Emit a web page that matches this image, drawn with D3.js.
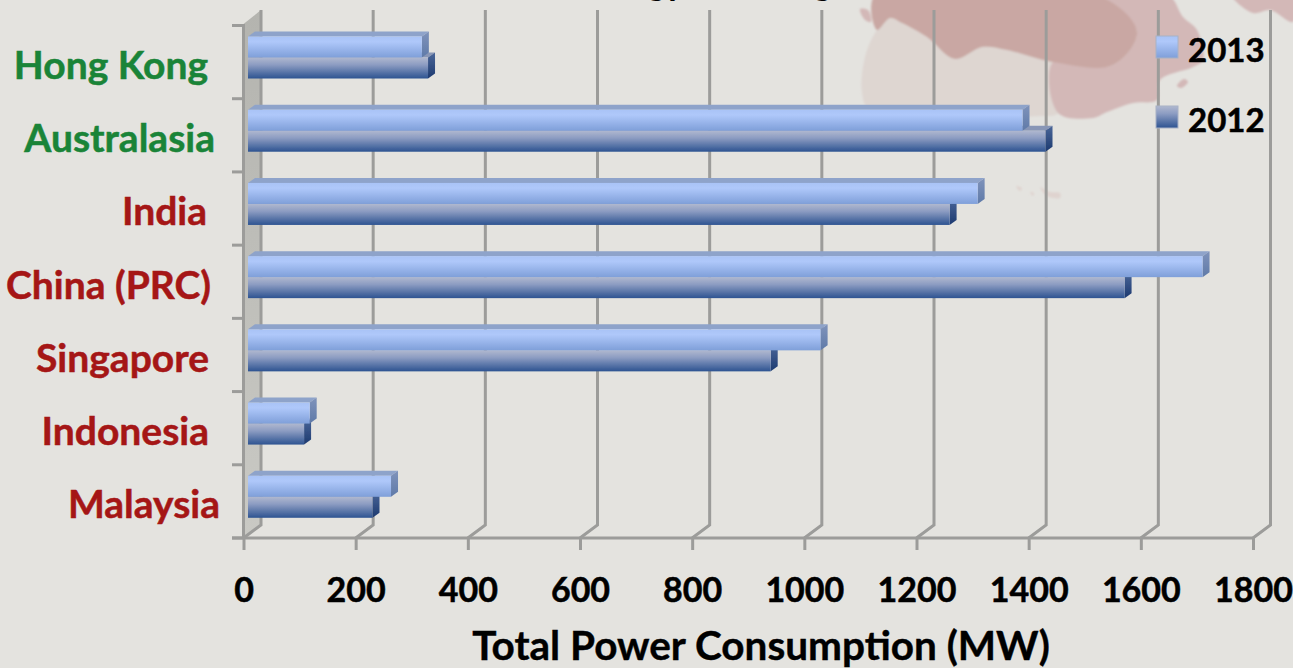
<!DOCTYPE html>
<html>
<head>
<meta charset="utf-8">
<title>Total Power Consumption</title>
<script src="https://cdn.jsdelivr.net/npm/d3@7"></script>
<style>
    html, body { margin: 0; padding: 0; background: #e4e3df; overflow: hidden; }
    text { font-family: Lato, "Open Sans", sans-serif; font-weight: 700; }
</style>
</head>
<body>
<div id="chart"></div>
<script>
// values
var categories = ["Hong Kong", "Australasia", "India", "China (PRC)", "Singapore", "Indonesia", "Malaysia"];
var regionKind = ["green", "green", "red", "red", "red", "red", "red"];
var years = ["2013", "2012"];
var values2013 = [310, 1381, 1301, 1702, 1021, 110, 255];
var values2012 = [321, 1422, 1251, 1563, 932, 100, 222];
var xTicks = [0, 200, 400, 600, 800, 1000, 1200, 1400, 1600, 1800];
var xTitle = "Total Power Consumption (MW)";

var width = 1293, height = 668;

// 3d layout of the chart box
var depthX = 17.5, depthY = 13;      // floor depth
var barInset = 4.5, barDepthX = 7, barDepthY = 5;
var wallTop = 10, floorY = 538;

var svg = d3.select("#chart").append("svg")
    .attr("width", width)
    .attr("height", height)
    .style("display", "block");

var defs = svg.append("defs");

function addGradient(id, stops) {
    var g = defs.append("linearGradient")
        .attr("id", id)
        .attr("x1", 0).attr("y1", 0).attr("x2", 0).attr("y2", 1);
    stops.forEach(function (s) {
        g.append("stop").attr("offset", s[0]).attr("stop-color", s[1]);
    });
}
addGradient("front2013", [[0, "#a9c3f6"], [0.25, "#afc8fa"], [1, "#7f9fd9"]]);
addGradient("front2012", [[0, "#b0b8cf"], [0.35, "#8c9cc2"], [1, "#2d5391"]]);
addGradient("side2013", [[0, "#7f93bb"], [1, "#5f7aa8"]]);
addGradient("side2012", [[0, "#4a6698"], [1, "#1d3a70"]]);

var wallGrad = defs.append("linearGradient")
    .attr("id", "wall")
    .attr("x1", 0).attr("y1", 0).attr("x2", 0).attr("y2", 1);
wallGrad.append("stop").attr("offset", 0).attr("stop-color", "#b4b4af");
wallGrad.append("stop").attr("offset", 1).attr("stop-color", "#c9c9c4");

defs.append("filter").attr("id", "soft")
    .append("feGaussianBlur").attr("stdDeviation", 0.6);
defs.append("filter").attr("id", "softer")
    .append("feGaussianBlur").attr("stdDeviation", 1.2);

/******************** faded map behind the chart ********************/
var darkLand = [[875, -5], [877, 30], [890, 18], [902, 23], [927, 37], [955, 59], [982, 47], [1007, 50], [1053, 62], [1113, 65], [1137, 32], [1097, -5]];
var midLand = [[1097, -5], [1137, 32], [1113, 65], [1053, 62], [1058, 113], [1093, 118], [1107, 112], [1133, 103], [1157, 100], [1160, 80], [1193, 67], [1203, 60], [1197, 30], [1183, 17], [1168, -5]];
var lightLand = [[877, 30], [890, 18], [902, 23], [927, 37], [955, 59], [982, 47], [1007, 50], [1053, 62], [1058, 113], [1040, 116], [870, 110], [862, 93], [865, 57]];
var topRightLand = [[1232, -5], [1253, 13], [1270, 10], [1293, 22], [1293, -5]];
var islands = [
    [[860, 9], [868, 10], [871, 22], [865, 20]],
    [[1177, 86], [1184, 79], [1188, 82], [1181, 88]],
    [[1040, 187], [1050, 192], [1060, 193], [1060, 198], [1047, 196]],
    [[1016, 186], [1022, 188], [1020, 191]],
    [[1030, 192], [1034, 193], [1033, 196]]
];

var map = svg.append("g").attr("class", "map").attr("filter", "url(#softer)");
var poly = function (pts) { return pts.map(function (p) { return p.join(","); }).join(" "); };
var coast = d3.line().curve(d3.curveCatmullRomClosed);
map.append("path").attr("d", coast(lightLand)).attr("fill", "#ded6d1");
map.append("path").attr("d", coast(midLand)).attr("fill", "#d3b8b7");
map.append("path").attr("d", coast(darkLand)).attr("fill", "#c9a7a3");
map.append("path").attr("d", coast(topRightLand)).attr("fill", "#d3b8b7");
map.selectAll(".island")
    .data(islands)
    .enter().append("path")
    .attr("class", "island")
    .attr("d", coast)
    .attr("fill", function (d, i) { return i > 1 ? "#dfd3cf" : "#d3b8b7"; });

// bottoms of the cropped title, only the descenders stay in frame
svg.append("text").attr("x", 647).attr("y", -5).attr("font-size", 36).text("gy");
svg.append("text").attr("x", 813).attr("y", -5).attr("font-size", 36).text("g");

/******************** scales ********************/
var xScale = d3.scaleLinear()
    .domain([0, 1800])
    .range([243.5, 1253]);

var yScale = d3.scaleBand()
    .domain(categories)
    .range([25.5, floorY]);

var yearScale = d3.scaleBand()
    .domain(years)
    .range([0, 42]);

var barTop = 11;
var gridColor = "#9c9c9a";

var chart = svg.append("g").attr("class", "plot").attr("filter", "url(#soft)");

/******************** side wall ********************/
var x0 = xScale(0);
chart.append("polygon")
    .attr("points", poly([[x0, wallTop + depthY + 1], [x0 + depthX, wallTop], [x0 + depthX, floorY - depthY], [x0, floorY]]))
    .attr("fill", "url(#wall)");

chart.append("line")
    .attr("x1", x0).attr("x2", x0)
    .attr("y1", wallTop + depthY + 1).attr("y2", floorY)
    .attr("stroke", gridColor).attr("stroke-width", 3);

// category tick marks sit on the band edges
chart.selectAll(".ytick")
    .data(categories.concat(["end"]))
    .enter().append("line")
    .attr("class", "ytick")
    .attr("x1", 232).attr("x2", x0)
    .attr("y1", function (d) { return d === "end" ? floorY : yScale(d); })
    .attr("y2", function (d) { return d === "end" ? floorY : yScale(d); })
    .attr("stroke", gridColor).attr("stroke-width", 3);

/******************** grid ********************/
chart.selectAll(".grid")
    .data(xTicks)
    .enter().append("polyline")
    .attr("class", "grid")
    .attr("points", function (d) {
        return poly([[xScale(d), floorY], [xScale(d) + depthX, floorY - depthY], [xScale(d) + depthX, wallTop]]);
    })
    .attr("fill", "none")
    .attr("stroke", gridColor)
    .attr("stroke-width", 3);

/******************** bars ********************/
function drawBars(year, vals) {
    var g = chart.append("g").attr("class", "bars" + year);
    var rows = g.selectAll("g")
        .data(categories)
        .enter().append("g");

    var left = x0 + barInset;
    var top = function (d) { return yScale(d) + barTop + yearScale(year); };
    var right = function (d, i) { return xScale(vals[i]) + barInset; };
    var h = yearScale.bandwidth();

    rows.append("polygon")
        .attr("points", function (d, i) {
            return poly([[left, top(d)], [left + barDepthX, top(d) - barDepthY], [right(d, i) + barDepthX, top(d) - barDepthY], [right(d, i), top(d)]]);
        })
        .attr("fill", year === "2013" ? "#8ea3ca" : "#8896b6");

    rows.append("polygon")
        .attr("points", function (d, i) {
            return poly([[right(d, i), top(d)], [right(d, i) + barDepthX, top(d) - barDepthY], [right(d, i) + barDepthX, top(d) + h - barDepthY], [right(d, i), top(d) + h]]);
        })
        .attr("fill", "url(#side" + year + ")");

    rows.append("rect")
        .attr("x", left)
        .attr("y", top)
        .attr("width", function (d, i) { return right(d, i) - left; })
        .attr("height", h)
        .attr("fill", "url(#front" + year + ")");
}
drawBars("2012", values2012);
drawBars("2013", values2013);

/******************** x axis ********************/
var xAxis = d3.axisBottom(xScale)
    .tickValues(xTicks)
    .tickFormat(d3.format("d"))
    .tickSize(12)
    .tickPadding(28);

var xg = svg.append("g")
    .attr("class", "xAxis")
    .attr("transform", "translate(0," + floorY + ")")
    .call(xAxis);

xg.select(".domain").remove();
xg.append("line")
    .attr("x1", 232).attr("x2", xScale(1800))
    .attr("stroke", gridColor).attr("stroke-width", 3);
xg.selectAll(".tick line").attr("stroke", gridColor).attr("stroke-width", 3);
xg.selectAll(".tick text")
    .attr("fill", "#000")
    .attr("font-size", 34)
    .attr("font-family", "Lato, sans-serif")
    .attr("font-weight", 700)
    .attr("stroke", "#000")
    .attr("stroke-width", 0.5);

svg.append("text")
    .attr("x", 761)
    .attr("y", 660)
    .attr("text-anchor", "middle")
    .attr("font-size", 40.5)
    .attr("fill", "#000")
    .attr("stroke", "#000")
    .attr("stroke-width", 0.4)
    .text(xTitle);

/******************** category labels ********************/
var labelRight = [208, 215, 207, 211, 209, 209, 220];
var kindColor = d3.scaleOrdinal()
    .domain(["green", "red"])
    .range(["#1a8438", "#a51616"]);

svg.selectAll(".catLabel")
    .data(categories)
    .enter().append("text")
    .attr("class", "catLabel")
    .attr("x", function (d, i) { return labelRight[i]; })
    .attr("y", function (d) { return yScale(d) + 53.5; })
    .attr("text-anchor", "end")
    .attr("font-size", 39)
    .attr("fill", function (d, i) { return kindColor(regionKind[i]); })
    .attr("stroke", function (d, i) { return kindColor(regionKind[i]); })
    .attr("stroke-width", 0.5)
    .text(function (d) { return d; });

/******************** legend ********************/
var legendY = d3.scalePoint()
    .domain(years)
    .range([36, 106]);

var legend = svg.selectAll(".legend")
    .data(years)
    .enter().append("g")
    .attr("class", "legend")
    .attr("transform", function (d) { return "translate(1156," + legendY(d) + ")"; });

legend.append("rect")
    .attr("width", 22)
    .attr("height", 22)
    .attr("fill", function (d) { return "url(#front" + d + ")"; })
    .attr("stroke", "#a8b2c6")
    .attr("stroke-width", 1);

legend.append("text")
    .attr("x", 32)
    .attr("y", 26)
    .attr("font-size", 33)
    .attr("fill", "#000")
    .attr("stroke", "#000")
    .attr("stroke-width", 0.5)
    .text(function (d) { return d; });
</script>
</body>
</html>
